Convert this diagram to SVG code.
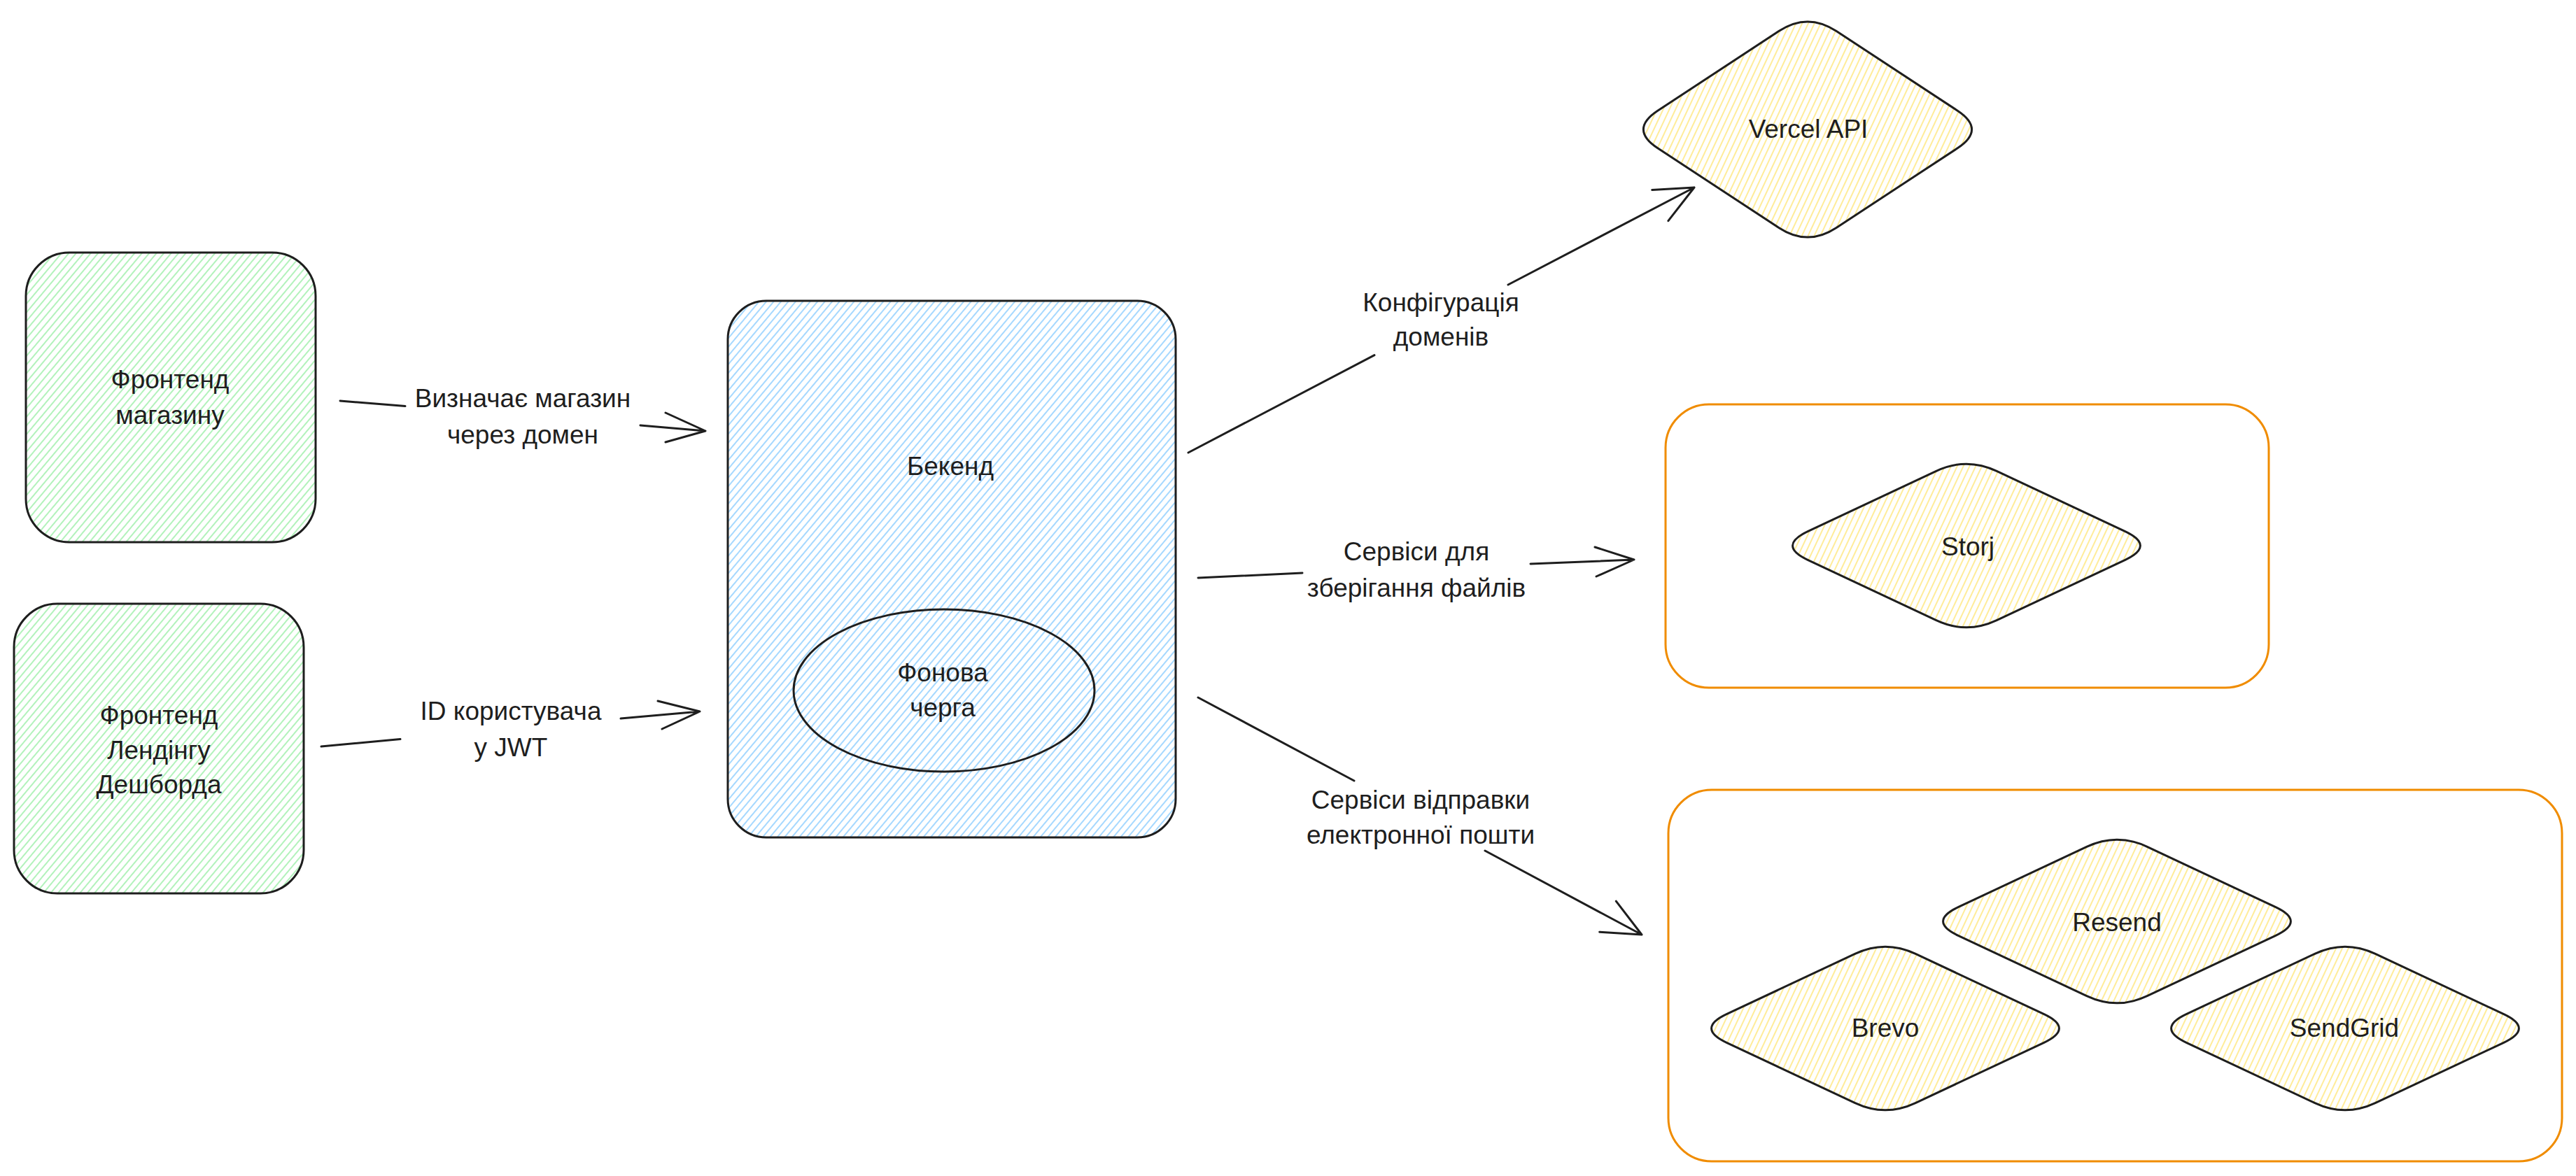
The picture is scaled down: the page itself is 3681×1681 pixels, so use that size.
<svg xmlns="http://www.w3.org/2000/svg" width="3681" height="1681" viewBox="0 0 3681 1681">
<defs>
<pattern id="hG" patternUnits="userSpaceOnUse" width="8" height="8" patternTransform="rotate(40)"><line x1="4" y1="0" x2="4" y2="8" stroke="#b2f2bb" stroke-width="2"/></pattern>
<pattern id="hB" patternUnits="userSpaceOnUse" width="8" height="8" patternTransform="rotate(40)"><line x1="4" y1="0" x2="4" y2="8" stroke="#a5d8ff" stroke-width="2"/></pattern>
<pattern id="hY" patternUnits="userSpaceOnUse" width="8" height="8" patternTransform="rotate(25)"><line x1="4" y1="0" x2="4" y2="8" stroke="#ffec99" stroke-width="2"/></pattern>
<path id="dia" d="M43.2,-106.68 L226.8,-20.32 Q270,0 226.8,20.32 L43.2,106.68 Q0,127 -43.2,106.68 L-226.8,20.32 Q-270,0 -226.8,-20.32 L-43.2,-106.68 Q0,-127 43.2,-106.68 Z"/>
</defs>
<style>
.box{stroke:#1e1e1e;stroke-width:3;}
.grp{fill:none;stroke:#f08c00;stroke-width:3;}
.dm{fill:url(#hY);stroke:#1e1e1e;stroke-width:3;}
.t{font-family:"Liberation Sans","DejaVu Sans",sans-serif;font-size:37px;fill:#1e1e1e;text-anchor:middle;}
.c{fill:none;stroke:#1e1e1e;stroke-width:3;stroke-linecap:round;stroke-linejoin:round;}
</style>
<rect width="3681" height="1681" fill="#ffffff"/>

<g id="store-frontend">
<rect class="box" x="37" y="361" width="414" height="414" rx="62" fill="url(#hG)"/>
<text class="t" x="243" y="555">Фронтенд</text>
<text class="t" x="243" y="606">магазину</text>
</g>

<g id="landing-frontend">
<rect class="box" x="20" y="863" width="414" height="414" rx="62" fill="url(#hG)"/>
<text class="t" x="227" y="1035">Фронтенд</text>
<text class="t" x="227" y="1085">Лендінгу</text>
<text class="t" x="227" y="1134">Дешборда</text>
</g>

<g id="backend">
<rect class="box" x="1040" y="430" width="640" height="767" rx="55" fill="url(#hB)"/>
<text class="t" x="1358" y="679">Бекенд</text>
</g>

<g id="queue">
<ellipse class="box" cx="1349" cy="987" rx="215" ry="116" fill="none"/>
<text class="t" x="1347" y="974">Фонова</text>
<text class="t" x="1347" y="1024">черга</text>
</g>

<g id="vercel">
<path class="dm" d="M2623.8,44.3 L2797.2,158.2 Q2838,185 2797.2,211.8 L2623.8,325.7 Q2583,352.5 2542.2,325.7 L2368.8,211.8 Q2328,185 2368.8,158.2 L2542.2,44.3 Q2583,17.5 2623.8,44.3 Z"/>
<text class="t" x="2584" y="197">Vercel API</text>
</g>

<g id="storage-group">
<rect class="grp" x="2380" y="578" width="862" height="405" rx="62"/>
</g>

<g id="storj">
<use href="#dia" class="dm" transform="translate(2810,780)"/>
<text class="t" x="2812" y="794">Storj</text>
</g>

<g id="email-group">
<rect class="grp" x="2384" y="1129" width="1277" height="531" rx="62"/>
</g>

<g id="resend">
<use href="#dia" class="dm" transform="translate(3025,1317)"/>
<text class="t" x="3025" y="1331">Resend</text>
</g>

<g id="brevo">
<use href="#dia" class="dm" transform="translate(2694,1470)"/>
<text class="t" x="2694" y="1482">Brevo</text>
</g>

<g id="sendgrid">
<use href="#dia" class="dm" transform="translate(3351,1470)"/>
<text class="t" x="3350" y="1482">SendGrid</text>
</g>

<g id="connectors">
<path class="c" d="M486,573 L579,580.6 M915,608 L1008,616 M951,590 L1008,616 L951,632"/>
<text class="t" x="747" y="582">Визначає магазин</text>
<text class="t" x="747" y="634">через домен</text>

<path class="c" d="M459,1067 L572,1056.6 M887,1027 L1000,1017 M940,1002 L1000,1017 L946,1042"/>
<text class="t" x="730" y="1029">ID користувача</text>
<text class="t" x="730" y="1081">у JWT</text>

<path class="c" d="M1698,647 L1964,507.6 M2155,407 L2421,268 M2360.7,271.4 L2421,268 L2383.9,315.7"/>
<text class="t" x="2059" y="445">Конфігурація</text>
<text class="t" x="2059" y="494">доменів</text>

<path class="c" d="M1712,826 L1861,819 M2187,806 L2335,800 M2279,782 L2335,800 L2281,824"/>
<text class="t" x="2024" y="801">Сервіси для</text>
<text class="t" x="2024" y="853">зберігання файлів</text>

<path class="c" d="M1712,997 L1935,1116 M2122,1216 L2346,1336 M2309.3,1288.1 L2346,1336 L2285.7,1332.2"/>
<text class="t" x="2030" y="1156">Сервіси відправки</text>
<text class="t" x="2030" y="1206">електронної пошти</text>
</g>
</svg>
